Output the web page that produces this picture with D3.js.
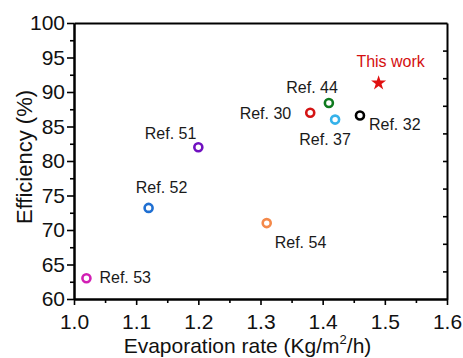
<!DOCTYPE html>
<html>
<head>
<meta charset="utf-8">
<script src="https://cdn.jsdelivr.net/npm/d3@7"></script>
<style>
  body { margin: 0; background: #fff; }
  text { font-family: Arial, "Liberation Sans", sans-serif; }
</style>
</head>
<body>
<div id="holder"></div>
<script>
// data
var refs   = ["Ref. 53", "Ref. 52", "Ref. 51", "Ref. 54", "Ref. 30", "Ref. 44", "Ref. 37", "Ref. 32"];
var rates  = [1.02, 1.12, 1.20, 1.31, 1.38, 1.41, 1.42, 1.46];
var effs   = [63.0, 73.2, 82.0, 71.0, 87.0, 88.4, 86.0, 86.6];
var colors = ["#d21fb4", "#1f6fd2", "#7010c0", "#f4894a", "#d41414", "#0e7a1e", "#35b2ea", "#000000"];
var thisWork = {label: "This work", rate: 1.49, eff: 91.3};
var xTicks = [1.0, 1.1, 1.2, 1.3, 1.4, 1.5, 1.6];
var yTicks = [60, 65, 70, 75, 80, 85, 90, 95, 100];

// label placement (dx, dy, anchor) per ref
var labelPos = [
  [13, 5, "start"], [13, -15, "middle"], [-2, -8, "end"], [8, 25, "start"],
  [-19, 6, "end"], [9, -10, "end"], [-10, 25, "middle"], [9, 15, "start"]
];

var margin = {top: 23, right: 16, bottom: 59, left: 74},
    width = 463 - margin.left - margin.right,
    height = 358 - margin.top - margin.bottom;

var svg = d3.select("#holder")
            .append("svg")
            .attr("width", width + margin.left + margin.right)
            .attr("height", height + margin.top + margin.bottom)
            .append("g")
            .attr("transform", "translate(" + margin.left + "," + margin.top + ")");

var x = d3.scaleLinear().domain([1.0, 1.6]).range([0, width]);
var y = d3.scaleLinear().domain([60, 100]).range([height, 0]);

// minor ticks first so major ones draw on top
svg.append("g")
   .attr("transform", "translate(0," + height + ")")
   .call(d3.axisBottom(x).tickValues(d3.range(1.05, 1.6, 0.1)).tickSize(4).tickSizeOuter(0).tickFormat(""));
svg.append("g")
   .call(d3.axisLeft(y).tickValues(d3.range(62.5, 100, 5)).tickSize(4).tickSizeOuter(0).tickFormat(""));

// right side ticks point inward
svg.append("g")
   .attr("transform", "translate(" + width + ",0)")
   .call(d3.axisLeft(y).tickValues(d3.range(64, 100, 4)).tickSize(4).tickSizeOuter(0).tickFormat(""));

// top line
svg.append("g")
   .call(d3.axisTop(x).tickValues([]).tickSizeOuter(0));

svg.append("g")
   .attr("transform", "translate(0," + height + ")")
   .call(d3.axisBottom(x).tickValues(xTicks).tickSize(6).tickSizeOuter(0).tickPadding(9.5)
         .tickFormat(d3.format(".1f")));
svg.append("g")
   .call(d3.axisLeft(y).tickValues(yTicks).tickSize(7).tickSizeOuter(0).tickPadding(2));

svg.selectAll(".domain").attr("stroke", "#000").attr("stroke-width", 2);
svg.selectAll(".tick line").attr("stroke", "#000").attr("stroke-width", 1.6);
svg.selectAll(".tick text").attr("font-size", 21).attr("fill", "#111")
   .attr("font-family", "Arial, 'Liberation Sans', sans-serif");

// axis titles
var xt = svg.append("text")
   .attr("x", width / 2 - 13)
   .attr("y", height + 54)
   .attr("text-anchor", "middle")
   .attr("font-size", 21)
   .attr("fill", "#111");
xt.append("tspan").text("Evaporation rate (Kg/m");
xt.append("tspan").attr("font-size", 13).attr("dy", -9).text("2");
xt.append("tspan").attr("dy", 9).text("/h)");

svg.append("text")
   .attr("transform", "translate(" + (-42) + "," + (height / 2 - 4) + ") rotate(-90)")
   .attr("text-anchor", "middle")
   .attr("font-size", 22)
   .attr("fill", "#111")
   .text("Efficiency (%)");

// points
var pts = refs.map(function(r, i) {
  return {label: r, rate: rates[i], eff: effs[i], color: colors[i], pos: labelPos[i]};
});

svg.append("g")
   .selectAll("circle")
   .data(pts)
   .enter()
   .append("circle")
   .attr("cx", d => x(d.rate))
   .attr("cy", d => y(d.eff))
   .attr("r", 4)
   .attr("fill", "#fff")
   .attr("stroke", d => d.color)
   .attr("stroke-width", 2.6);

svg.append("g")
   .selectAll("text")
   .data(pts)
   .enter()
   .append("text")
   .attr("x", d => x(d.rate) + d.pos[0])
   .attr("y", d => y(d.eff) + d.pos[1])
   .attr("text-anchor", d => d.pos[2])
   .attr("font-size", 16)
   .attr("fill", "#1a1a1a")
   .text(d => d.label);

// this work star
svg.append("path")
   .attr("d", d3.symbol().type(d3.symbolStar).size(70))
   .attr("transform", "translate(" + x(thisWork.rate) + "," + y(thisWork.eff) + ")")
   .attr("fill", "#e01010");

svg.append("text")
   .attr("x", x(thisWork.rate) + 12)
   .attr("y", y(thisWork.eff) - 16)
   .attr("text-anchor", "middle")
   .attr("font-size", 16)
   .attr("fill", "#d40f0f")
   .text(thisWork.label);
</script>
</body>
</html>
